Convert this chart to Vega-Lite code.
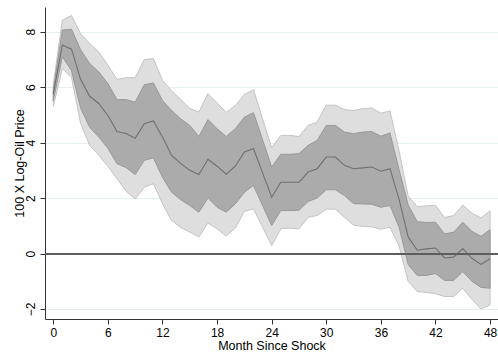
{
  "$schema": "https://vega.github.io/schema/vega-lite/v6.json",
  "width": 453,
  "height": 312,
  "autosize": "none",
  "padding": {"left": 45, "top": 7, "right": 0, "bottom": 34},
  "background": "white",
  "config": {
    "view": {"stroke": null},
    "font": "Liberation Sans",
    "axis": {
      "labelFont": "Liberation Sans",
      "titleFont": "Liberation Sans",
      "labelFontSize": 12,
      "titleFontSize": 12.5,
      "titleFontWeight": "normal",
      "labelColor": "#000000",
      "titleColor": "#000000",
      "domainColor": "#333333",
      "tickColor": "#333333",
      "tickSize": 5,
      "domainWidth": 1,
      "tickWidth": 1
    }
  },
  "data": {
    "values": [
      {"month": 0, "lo90": 5.3, "lo68": 5.5, "est": 5.75, "hi68": 5.9, "hi90": 6.1},
      {"month": 1, "lo90": 6.67, "lo68": 7.1, "est": 7.52, "hi68": 8.06, "hi90": 8.42},
      {"month": 2, "lo90": 6.36, "lo68": 6.6, "est": 7.37, "hi68": 8.09, "hi90": 8.58},
      {"month": 3, "lo90": 4.7, "lo68": 5.25, "est": 6.28, "hi68": 7.35, "hi90": 7.93},
      {"month": 4, "lo90": 3.9, "lo68": 4.55, "est": 5.67, "hi68": 6.85, "hi90": 7.57},
      {"month": 5, "lo90": 3.55, "lo68": 4.2, "est": 5.41, "hi68": 6.55, "hi90": 7.27},
      {"month": 6, "lo90": 3.15, "lo68": 3.8, "est": 4.98, "hi68": 6.13, "hi90": 6.79},
      {"month": 7, "lo90": 2.7, "lo68": 3.24, "est": 4.4, "hi68": 5.55, "hi90": 6.28},
      {"month": 8, "lo90": 2.25, "lo68": 3.1, "est": 4.33, "hi68": 5.55, "hi90": 6.34},
      {"month": 9, "lo90": 1.97, "lo68": 2.85, "est": 4.16, "hi68": 5.46, "hi90": 6.34},
      {"month": 10, "lo90": 2.39, "lo68": 3.36, "est": 4.68, "hi68": 6.09, "hi90": 6.99},
      {"month": 11, "lo90": 2.52, "lo68": 3.45, "est": 4.78, "hi68": 6.15, "hi90": 7.03},
      {"month": 12, "lo90": 1.8, "lo68": 2.75, "est": 4.2, "hi68": 5.52, "hi90": 6.25},
      {"month": 13, "lo90": 1.19, "lo68": 2.21, "est": 3.54, "hi68": 5.16, "hi90": 5.86},
      {"month": 14, "lo90": 0.94, "lo68": 1.94, "est": 3.25, "hi68": 4.86, "hi90": 5.56},
      {"month": 15, "lo90": 0.77, "lo68": 1.73, "est": 3.0, "hi68": 4.62, "hi90": 5.23},
      {"month": 16, "lo90": 0.6, "lo68": 1.49, "est": 2.85, "hi68": 4.22, "hi90": 5.1},
      {"month": 17, "lo90": 1.1, "lo68": 2.0, "est": 3.4, "hi68": 4.83, "hi90": 5.77},
      {"month": 18, "lo90": 0.89, "lo68": 1.67, "est": 3.15, "hi68": 4.5, "hi90": 5.43},
      {"month": 19, "lo90": 0.63, "lo68": 1.49, "est": 2.86, "hi68": 4.22, "hi90": 5.09},
      {"month": 20, "lo90": 0.92, "lo68": 1.79, "est": 3.15, "hi68": 4.5, "hi90": 5.34},
      {"month": 21, "lo90": 1.52, "lo68": 2.21, "est": 3.66, "hi68": 4.92, "hi90": 5.73},
      {"month": 22, "lo90": 1.61, "lo68": 2.45, "est": 3.78, "hi68": 5.08, "hi90": 5.91},
      {"month": 23, "lo90": 0.95, "lo68": 1.73, "est": 2.91, "hi68": 4.1, "hi90": 4.86},
      {"month": 24, "lo90": 0.29, "lo68": 1.01, "est": 2.03, "hi68": 3.12, "hi90": 3.81},
      {"month": 25, "lo90": 0.89, "lo68": 1.55, "est": 2.57, "hi68": 3.58, "hi90": 4.26},
      {"month": 26, "lo90": 0.92, "lo68": 1.55, "est": 2.57, "hi68": 3.58, "hi90": 4.26},
      {"month": 27, "lo90": 0.89, "lo68": 1.56, "est": 2.57, "hi68": 3.6, "hi90": 4.22},
      {"month": 28, "lo90": 1.31, "lo68": 1.88, "est": 2.94, "hi68": 3.9, "hi90": 4.62},
      {"month": 29, "lo90": 1.37, "lo68": 2.0, "est": 3.06, "hi68": 4.08, "hi90": 4.74},
      {"month": 30, "lo90": 1.6, "lo68": 2.3, "est": 3.48, "hi68": 4.62, "hi90": 5.35},
      {"month": 31, "lo90": 1.6, "lo68": 2.3, "est": 3.48, "hi68": 4.62, "hi90": 5.35},
      {"month": 32, "lo90": 1.31, "lo68": 2.09, "est": 3.18, "hi68": 4.38, "hi90": 5.19},
      {"month": 33, "lo90": 1.02, "lo68": 1.8, "est": 3.06, "hi68": 4.32, "hi90": 5.16},
      {"month": 34, "lo90": 0.98, "lo68": 1.79, "est": 3.09, "hi68": 4.38, "hi90": 5.22},
      {"month": 35, "lo90": 0.96, "lo68": 1.78, "est": 3.12, "hi68": 4.4, "hi90": 5.25},
      {"month": 36, "lo90": 0.88, "lo68": 1.67, "est": 2.97, "hi68": 4.23, "hi90": 5.06},
      {"month": 37, "lo90": 0.95, "lo68": 1.73, "est": 3.06, "hi68": 4.35, "hi90": 5.14},
      {"month": 38, "lo90": 0.27, "lo68": 0.95, "est": 1.95, "hi68": 3.03, "hi90": 3.7},
      {"month": 39, "lo90": -1.0, "lo68": -0.4, "est": 0.6, "hi68": 1.75, "hi90": 2.07},
      {"month": 40, "lo90": -1.37, "lo68": -0.79, "est": 0.12, "hi68": 1.15, "hi90": 1.69},
      {"month": 41, "lo90": -1.4, "lo68": -0.79, "est": 0.17, "hi68": 1.12, "hi90": 1.72},
      {"month": 42, "lo90": -1.45, "lo68": -0.72, "est": 0.2, "hi68": 1.13, "hi90": 1.74},
      {"month": 43, "lo90": -1.55, "lo68": -0.97, "est": -0.16, "hi68": 0.71, "hi90": 1.3},
      {"month": 44, "lo90": -1.55, "lo68": -0.97, "est": -0.13, "hi68": 0.77, "hi90": 1.37},
      {"month": 45, "lo90": -1.25, "lo68": -0.65, "est": 0.18, "hi68": 1.13, "hi90": 1.75},
      {"month": 46, "lo90": -1.65, "lo68": -1.0, "est": -0.17, "hi68": 0.8, "hi90": 1.46},
      {"month": 47, "lo90": -2.0, "lo68": -1.22, "est": -0.39, "hi68": 0.62, "hi90": 1.28},
      {"month": 48, "lo90": -1.85, "lo68": -1.25, "est": -0.19, "hi68": 0.86, "hi90": 1.54}
    ]
  },
  "layer": [
    {
      "mark": {"type": "area", "color": "#DEDEDE", "stroke": "#C4C4C4", "strokeWidth": 1},
      "encoding": {
        "x": {
          "field": "month", "type": "quantitative",
          "scale": {"domain": [-0.91, 48.87], "nice": false, "zero": false},
          "axis": {
            "title": "Month Since Shock",
            "values": [0, 6, 12, 18, 24, 30, 36, 42, 48],
            "grid": false,
            "labelPadding": 3,
            "titlePadding": 1
          }
        },
        "y": {
          "field": "hi90", "type": "quantitative",
          "scale": {"domain": [-2.36, 8.89], "nice": false, "zero": false},
          "axis": {
            "title": "100 X Log-Oil Price",
            "values": [-2, 0, 2, 4, 6, 8],
            "grid": true,
            "gridColor": "#E6EFF0",
            "gridWidth": 1,
            "labelAngle": -90,
            "labelAlign": "center",
            "labelBaseline": "bottom",
            "labelPadding": 3,
            "titlePadding": -2
          }
        },
        "y2": {"field": "lo90"}
      }
    },
    {
      "mark": {"type": "area", "color": "#ABABAB", "stroke": "#999999", "strokeWidth": 1},
      "encoding": {
        "x": {"field": "month", "type": "quantitative"},
        "y": {"field": "hi68", "type": "quantitative"},
        "y2": {"field": "lo68"}
      }
    },
    {
      "mark": {"type": "line", "color": "#707070", "strokeWidth": 1.1},
      "encoding": {
        "x": {"field": "month", "type": "quantitative"},
        "y": {"field": "est", "type": "quantitative"}
      }
    },
    {
      "mark": {"type": "rule", "color": "#5E5E5E", "strokeWidth": 1.2},
      "encoding": {"y": {"datum": 0}}
    }
  ]
}
